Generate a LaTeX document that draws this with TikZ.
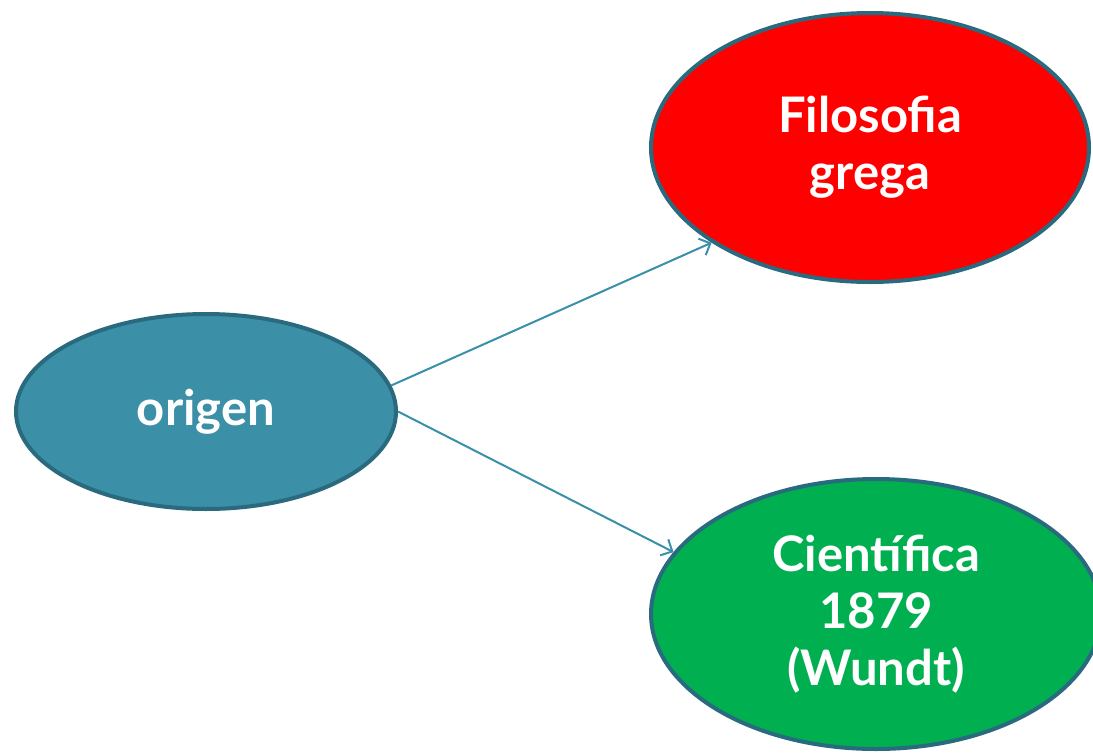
\documentclass[tikz,border=0pt]{standalone}
\usepackage{fontspec}
\setmainfont{Lato}
\usetikzlibrary{shapes.geometric,arrows.meta}
\definecolor{tealfill}{HTML}{3B8FA6}
\definecolor{tealline}{HTML}{2A6A7E}
\definecolor{arrowcol}{HTML}{3A90A8}
\definecolor{redfill}{HTML}{FF0000}
\definecolor{greenfill}{HTML}{00B050}
\tikzset{
  bubble/.style={ellipse, draw=tealline, line width=4pt, inner sep=0pt,
    text=white, align=center,
    font=\fontsize{49}{57}\selectfont\bfseries},
  link/.style={draw=arrowcol, line width=2pt,
    -{Straight Barb[length=9pt,width=18pt,line width=2pt]}}
}
\begin{document}
\begin{tikzpicture}[x=1pt,y=-1pt]
\useasboundingbox (0,0) rectangle (1093,753);
\node[bubble, fill=tealfill, minimum width=380pt, minimum height=195pt] (o) at (206,411.5) {origen};
\node[bubble, fill=redfill, minimum width=438pt, minimum height=269pt] (f) at (870,147.5) {Filosofia\\grega};
\node[bubble, fill=greenfill, minimum width=450pt, minimum height=270pt] (g) at (876,614) {Científica\\1879\\(Wundt)};
\draw[link] (o.8) -- (f.211);
\draw[link] (o.0) -- (g.163);
\end{tikzpicture}
\end{document}
